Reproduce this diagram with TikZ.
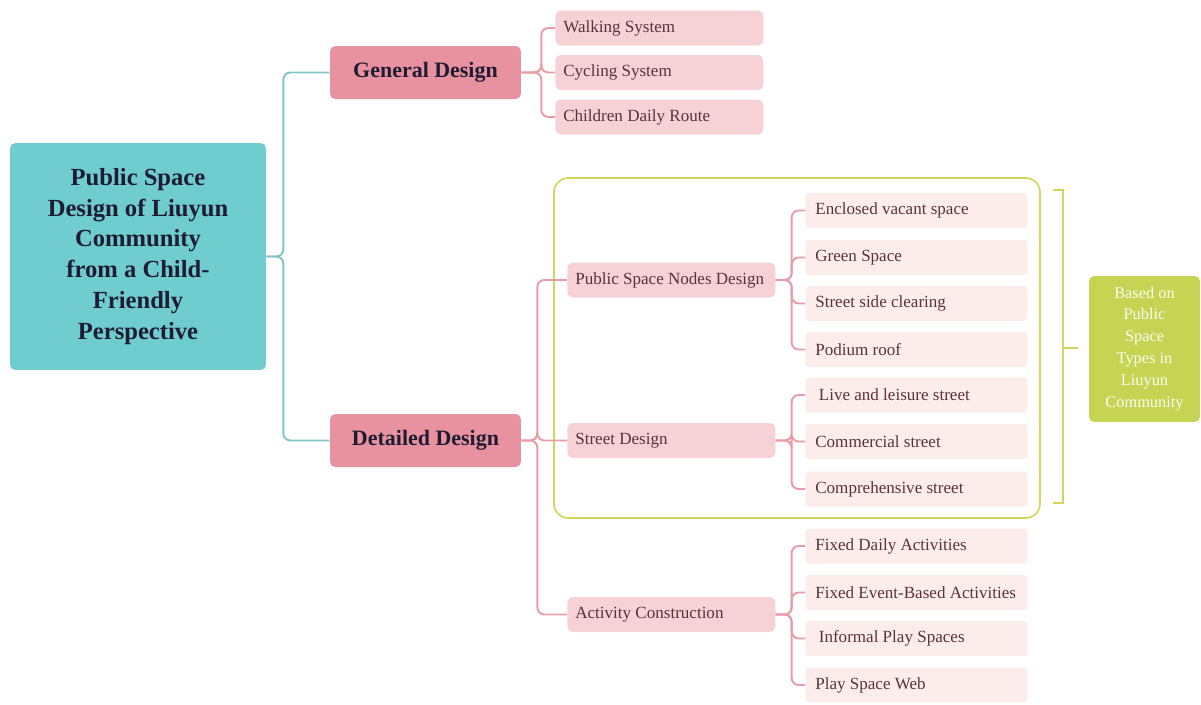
\documentclass[tikz,border=0pt]{standalone}
\usepackage{fontspec}
\setmainfont{Liberation Serif}
\usetikzlibrary{positioning}
\definecolor{Tc}{HTML}{6FCDD0}
\definecolor{Tl}{HTML}{7FC6C9}
\definecolor{Pc}{HTML}{E8919F}
\definecolor{Pl}{HTML}{E99CA8}
\definecolor{Sc}{HTML}{F6D2D7}
\definecolor{Lf}{HTML}{FDEDEA}
\definecolor{Yc}{HTML}{D3D45C}
\definecolor{Gc}{HTML}{C6D453}
\definecolor{ink}{HTML}{1E1B33}
\definecolor{brown}{HTML}{5A3236}
\tikzset{
  rootbox/.style={rectangle, rounded corners=3pt, fill=Tc, text=ink, font=\bfseries\fontsize{14}{17.6}\selectfont,
    minimum width=5.12cm, minimum height=4.54cm, align=center},
  mainbox/.style={rectangle, rounded corners=3pt, fill=Pc, text=ink, font=\bfseries\fontsize{12.5}{15}\selectfont,
    minimum width=3.82cm, minimum height=1.06cm},
  % one-line label, pushed to the left of a box of fixed width
  lbox/.style={anchor=west, minimum height=0.7cm, text=brown, font=\fontsize{9.7}{12}\selectfont,
    execute at begin node={\hbox to #1\bgroup}, execute at end node={\hfil\egroup}},
  subbox/.style={lbox=3.84cm, rectangle, rounded corners=3pt, fill=Sc, inner xsep=0.16cm},
  leafbox/.style={lbox=4.04cm, rectangle, rounded corners=2pt, fill=Lf, inner xsep=0.2cm},
  notebox/.style={rectangle, rounded corners=3pt, fill=Gc, text=white!92!Gc, font=\fontsize{9.3}{12.5}\selectfont,
    minimum width=2.22cm, minimum height=2.92cm, align=center},
  link/.style={Pl, line width=1.1pt, rounded corners=4pt},
  tlink/.style={Tl, line width=1.1pt, rounded corners=4pt},
  frame/.style={Yc, line width=0.9pt, rounded corners=8pt},
}

\begin{document}
\begin{tikzpicture}[x=0.02cm, y=-0.02cm]
  \useasboundingbox (0,0) rectangle (1201,704);

  % root and the two main branches
  \node[rootbox] (root) at (138,256.5) {Public Space\\Design of Liuyun\\Community\\from a Child-\\Friendly\\Perspective};
  \node[mainbox] (gd) at (425.5,72.5) {General Design};
  \node[mainbox] (dd) at (425.5,440.5) {Detailed Design};
  \draw[tlink] (root.east) -- ++(17,0) |- (gd.west);
  \draw[tlink] (root.east) -- ++(17,0) |- (dd.west);

  % general design
  \node[subbox] (walk) at (555,28) {Walking System};
  \node[subbox] (cycle) at (555,72.5) {Cycling System};
  \node[subbox] (route) at (555,117) {Children Daily Route};
  \foreach \c in {walk,cycle,route}
    \draw[link] (gd.east) -- ++(20,0) |- (\c.west);

  % frame round the space types
  \draw[frame] (554,178) rectangle (1040,518);

  % detailed design
  \node[subbox] (nodes) at (567,280) {Public Space Nodes Design};
  \node[subbox] (street) at (567,440.5) {Street Design};
  \node[subbox] (act) at (567,614.5) {Activity Construction};
  \foreach \c in {nodes,street,act}
    \draw[link] (dd.east) -- ++(16,0) |- (\c.west);

  \node[leafbox] (n1) at (805,210.5) {Enclosed vacant space};
  \node[leafbox] (n2) at (805,257.5) {Green Space};
  \node[leafbox] (n3) at (805,303.5) {Street side clearing};
  \node[leafbox] (n4) at (805,349.5) {Podium roof};
  \foreach \c in {n1,n2,n3,n4}
    \draw[link] (nodes.east) -- ++(16,0) |- (\c.west);

  \node[leafbox] (s1) at (805,395) {\hspace{2pt}Live and leisure street};
  \node[leafbox] (s2) at (805,441.5) {Commercial street};
  \node[leafbox] (s3) at (805,489) {Comprehensive street};
  \foreach \c in {s1,s2,s3}
    \draw[link] (street.east) -- ++(16,0) |- (\c.west);

  \node[leafbox] (a1) at (805,546) {Fixed Daily Activities};
  \node[leafbox] (a2) at (805,592.5) {Fixed Event-Based Activities};
  \node[leafbox] (a3) at (805,638.5) {\hspace{2pt}Informal Play Spaces};
  \node[leafbox] (a4) at (805,685) {Play Space Web};
  \foreach \c in {a1,a2,a3,a4}
    \draw[link] (act.east) -- ++(16,0) |- (\c.west);

  % bracket and note
  \node[notebox] (note) at (1144.5,349) {Based on\\Public\\Space\\Types in\\Liuyun\\Community};
  \coordinate (brk) at (1063,348);
  \draw[Yc, line width=0.9pt] (1053,190) -- (1063,190) -- (1063,503) -- (1053,503);
  \draw[Yc, line width=0.9pt] (brk) -- ++(15,0);
\end{tikzpicture}
\end{document}
